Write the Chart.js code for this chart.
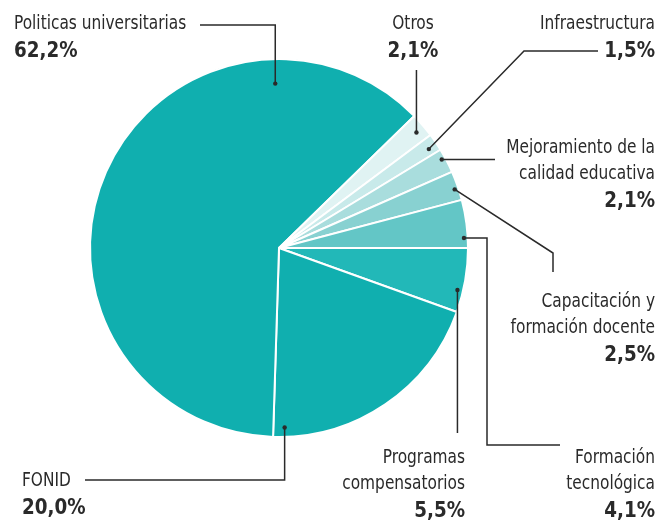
<!DOCTYPE html>
<html lang="es">
<head>
    <meta charset="UTF-8">
    <title>Distribución del presupuesto universitario</title>
    <style>
        body {
            margin: 0;
            padding: 0;
            background: #fff;
        }
        #chart-wrap {
            width: 659px;
            height: 522px;
            position: relative;
        }
    </style>
</head>
<body>
    <div id="chart-wrap">
        <canvas id="myChart"></canvas>
    </div>

    <script src="https://cdn.jsdelivr.net/npm/chart.js"></script>
    <script>
// slices go clockwise starting at 3 o'clock
const categories = [
    'Programas compensatorios',
    'FONID',
    'Politicas universitarias',
    'Otros',
    'Infraestructura',
    'Mejoramiento de la calidad educativa',
    'Capacitación y formación docente',
    'Formación tecnológica'
];
const shares = [5.5, 20.0, 62.2, 2.1, 1.5, 2.1, 2.5, 4.1];
const shareLabels = ['5,5%', '20,0%', '62,2%', '2,1%', '1,5%', '2,1%', '2,5%', '4,1%'];
// label text as it is broken into lines
const labelLines = [
    ['Programas', 'compensatorios'],
    ['FONID'],
    ['Politicas universitarias'],
    ['Otros'],
    ['Infraestructura'],
    ['Mejoramiento de la', 'calidad educativa'],
    ['Capacitación y', 'formación docente'],
    ['Formación', 'tecnológica']
];

const sliceColors = ['#22b8b8', '#10afaf', '#10afaf', '#e0f3f3', '#c8eaea', '#a9dddd', '#88d1d1', '#63c6c6'];

// callout layout: where the dot sits in the slice (t = fraction along the arc, r = fraction of radius),
// the leader line elbows, and the text block
const callouts = [
    { t: 0.67, r: 0.97, path: d => [[d.x, 433]], x: 465, y: 463, align: 'right' },
    { t: 0.95, r: 0.95, path: d => [[d.x, 480], [85, 480]], x: 22, y: 486, align: 'left' },
    { t: 0.79, r: 0.87, path: d => [[d.x, 25], [200, 25]], x: 14, y: 29, align: 'left' },
    { t: 0.56, r: 0.95, path: d => [[d.x, 70]], x: 413, y: 29, align: 'center' },
    { t: 0.61, r: 0.95, path: d => [[524, 51], [598, 51]], x: 655, y: 29, align: 'right' },
    { t: 0.37, r: 0.98, path: d => [[495, d.y]], x: 655, y: 153, align: 'right' },
    { t: 0.59, r: 0.98, path: d => [[553, 253], [553, 272]], x: 655, y: 307, align: 'right' },
    { t: 0.79, r: 0.98, path: d => [[487, d.y], [487, 445], [560, 445]], x: 655, y: 463, align: 'right' }
];

const nameFont = '19px "DejaVu Sans Condensed", "Liberation Sans Narrow", sans-serif';
const valueFont = 'bold 21px "DejaVu Sans Condensed", "Liberation Sans Narrow", sans-serif';
const nameSqueeze = 0.9;
const ink = '#2a2a2a';

function squeezedText(ctx, text, x, y, sx) {
    ctx.save();
    ctx.translate(x, y);
    ctx.scale(sx, 1);
    ctx.fillText(text, 0, 0);
    ctx.restore();
}

const calloutPlugin = {
    id: 'callouts',
    afterDraw(chart) {
        const ctx = chart.ctx;
        const arcs = chart.getDatasetMeta(0).data;
        ctx.save();
        arcs.forEach((arc, i) => {
            const c = callouts[i];
            const a = arc.startAngle + (arc.endAngle - arc.startAngle) * c.t;
            const dot = {
                x: arc.x + Math.cos(a) * arc.outerRadius * c.r,
                y: arc.y + Math.sin(a) * arc.outerRadius * c.r
            };

            // leader line
            ctx.strokeStyle = ink;
            ctx.lineWidth = 1.5;
            ctx.beginPath();
            ctx.moveTo(dot.x, dot.y);
            c.path(dot).forEach(p => ctx.lineTo(p[0], p[1]));
            ctx.stroke();
            ctx.fillStyle = ink;
            ctx.beginPath();
            ctx.arc(dot.x, dot.y, 2.2, 0, Math.PI * 2);
            ctx.fill();

            // label text
            ctx.textAlign = c.align;
            ctx.textBaseline = 'alphabetic';
            ctx.font = nameFont;
            let y = c.y;
            labelLines[i].forEach(line => {
                squeezedText(ctx, line, c.x, y, nameSqueeze);
                y += 26;
            });
            ctx.font = valueFont;
            squeezedText(ctx, shareLabels[i], c.x, y + 2, 0.97);
        });
        ctx.restore();
    }
};

const ctx = document.getElementById('myChart').getContext('2d');
const myChart = new Chart(ctx, {
    type: 'pie',
    data: {
        labels: categories,
        datasets: [{
            data: shares,
            backgroundColor: sliceColors,
            borderColor: '#ffffff',
            borderWidth: 2
        }]
    },
    options: {
        responsive: true,
        maintainAspectRatio: false,
        animation: false,
        rotation: 90,
        radius: 189,
        layout: {
            padding: { left: 0, right: 101, top: 0, bottom: 26 }
        },
        plugins: {
            legend: { display: false },
            tooltip: { enabled: false }
        }
    },
    plugins: [calloutPlugin]
});
    </script>
</body>
</html>
